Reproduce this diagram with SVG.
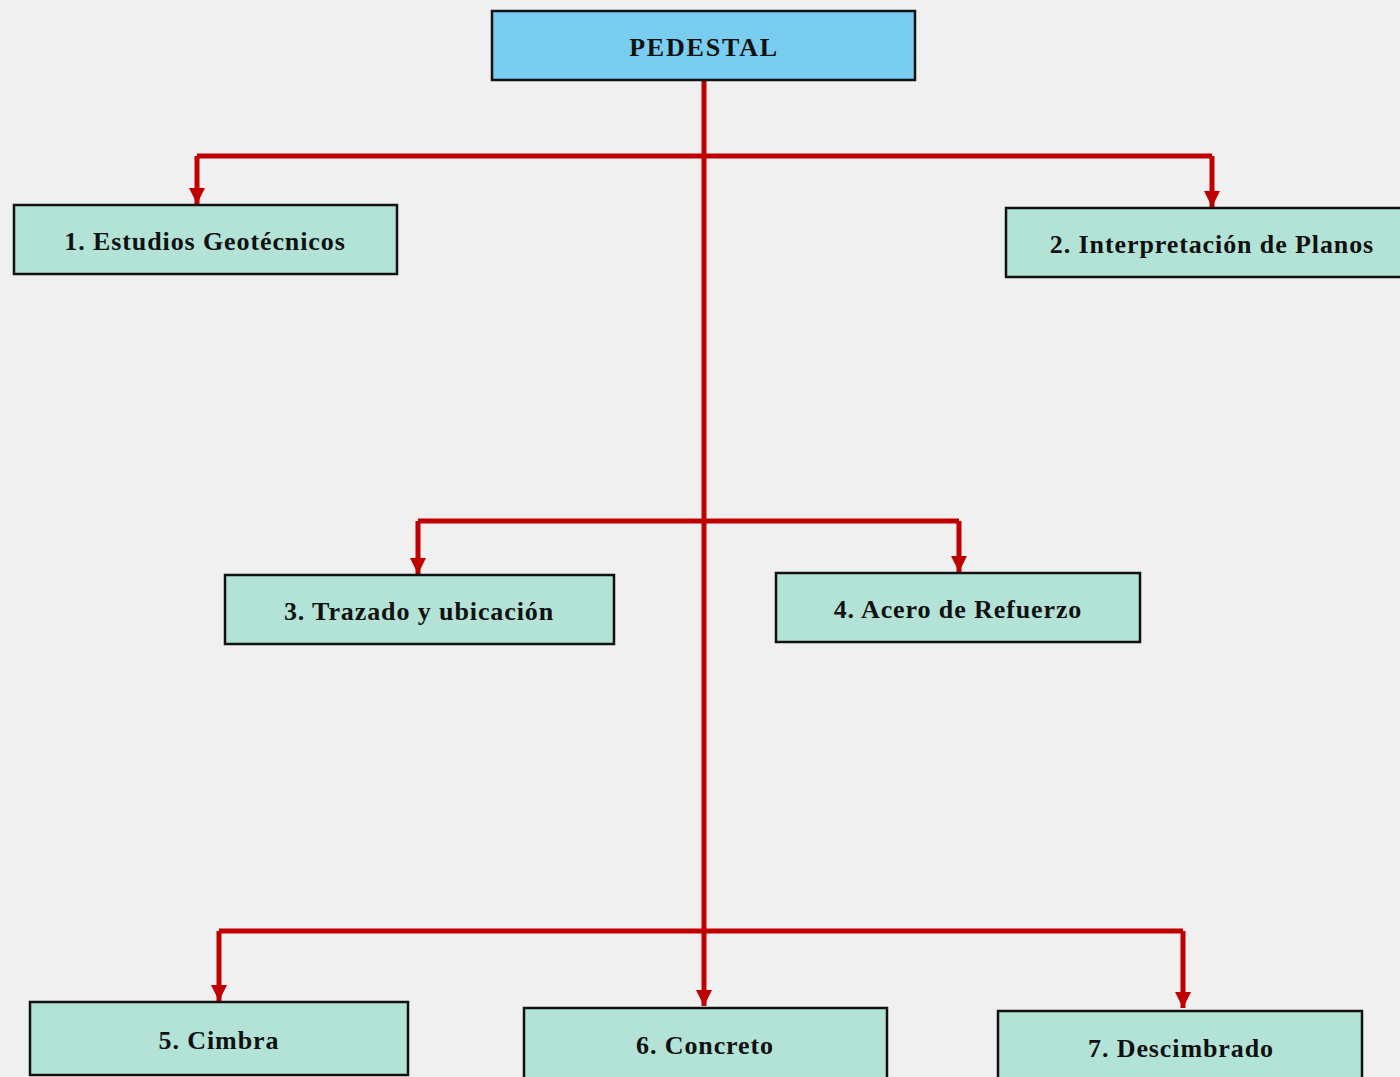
<svg xmlns="http://www.w3.org/2000/svg" width="1400" height="1077" viewBox="0 0 1400 1077">
<style>
.bg{fill:#f0f0f0}
.box{fill:#b3e3d6;stroke:#111;stroke-width:2.5}
.root{fill:#78cdf0;stroke:#111;stroke-width:2.5}
.lbl{font-family:"Liberation Serif","Times New Roman",serif;font-weight:bold;font-size:26px;fill:#111;text-anchor:middle;letter-spacing:0.9px}
.c{fill:none;stroke:#c00000;stroke-width:5}
</style>
<defs>
<marker id="ah" viewBox="0 0 10 10" refX="10" refY="5" markerWidth="3.2" markerHeight="3.2" markerUnits="strokeWidth" orient="auto">
<path d="M0,0 L10,5 L0,10 z" fill="#c00000"/>
</marker>
</defs>
<rect class="bg" x="0" y="0" width="1400" height="1077"/>
<g id="connectors">
<path class="c" d="M704,80 V1006" marker-end="url(#ah)"/>
<path class="c" d="M197,156 H1212"/>
<path class="c" d="M197,156 V204" marker-end="url(#ah)"/>
<path class="c" d="M1212,156 V207" marker-end="url(#ah)"/>
<path class="c" d="M418,521 H959"/>
<path class="c" d="M418,521 V574" marker-end="url(#ah)"/>
<path class="c" d="M959,521 V572" marker-end="url(#ah)"/>
<path class="c" d="M219,931 H1183"/>
<path class="c" d="M219,931 V1001" marker-end="url(#ah)"/>
<path class="c" d="M1183,931 V1008" marker-end="url(#ah)"/>
</g>
<g id="n0"><rect class="root" x="492" y="11" width="423" height="69"/><text class="lbl" x="704" y="56" style="letter-spacing:1.8px">PEDESTAL</text></g>
<g id="n1"><rect class="box" x="14" y="205" width="383" height="69"/><text class="lbl" x="205" y="250">1. Estudios Geotécnicos</text></g>
<g id="n2"><rect class="box" x="1006" y="208" width="400" height="69"/><text class="lbl" x="1212" y="253">2. Interpretación de Planos</text></g>
<g id="n3"><rect class="box" x="225" y="575" width="389" height="69"/><text class="lbl" x="419" y="620">3. Trazado y ubicación</text></g>
<g id="n4"><rect class="box" x="776" y="573" width="364" height="69"/><text class="lbl" x="958" y="618">4. Acero de Refuerzo</text></g>
<g id="n5"><rect class="box" x="30" y="1002" width="378" height="73"/><text class="lbl" x="219" y="1049">5. Cimbra</text></g>
<g id="n6"><rect class="box" x="524" y="1008" width="363" height="75"/><text class="lbl" x="705" y="1054">6. Concreto</text></g>
<g id="n7"><rect class="box" x="998" y="1011" width="364" height="75"/><text class="lbl" x="1181" y="1057">7. Descimbrado</text></g>
</svg>
